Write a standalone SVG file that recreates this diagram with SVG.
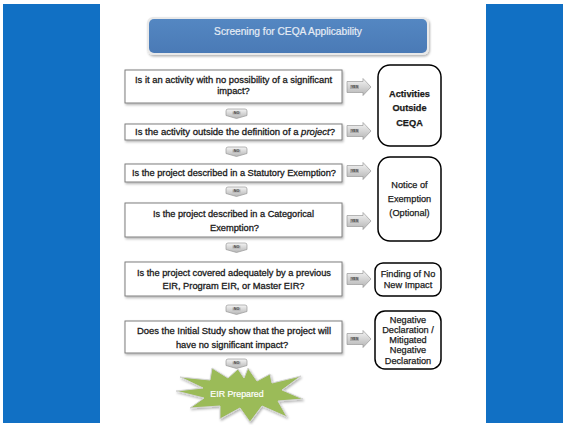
<svg xmlns="http://www.w3.org/2000/svg" width="566" height="425" viewBox="0 0 566 425">
<defs>
<linearGradient id="grayV" x1="0" y1="0" x2="0" y2="1">
<stop offset="0" stop-color="#f4f4f4"/>
<stop offset="1" stop-color="#b5b5b5"/>
</linearGradient>
<linearGradient id="titleG" x1="0" y1="0" x2="0" y2="1">
<stop offset="0" stop-color="#5487c2"/>
<stop offset="1" stop-color="#4a7ab6"/>
</linearGradient>
<filter id="sh" x="-10%" y="-10%" width="130%" height="140%">
<feDropShadow dx="1" dy="1.5" stdDeviation="1" flood-color="#000" flood-opacity="0.3"/>
</filter>
</defs>
<style>
.q{fill:#fff;stroke:#7f7f7f;stroke-width:1;filter:url(#sh)}
.qt{font-family:"Liberation Sans",Arial,sans-serif;font-size:9.3px;fill:#1a1a1a;stroke:#1a1a1a;stroke-width:0.3px;text-anchor:middle}
.rb{fill:#fff;stroke:#000;stroke-width:1.5}
.rt{font-family:"Liberation Sans",Arial,sans-serif;font-size:9.2px;fill:#1a1a1a;stroke:#1a1a1a;stroke-width:0.25px;text-anchor:middle}
.yes{fill:url(#grayV);stroke:#9a9a9a;stroke-width:0.7}
.lbl{font-family:"Liberation Sans",Arial,sans-serif;font-size:3.6px;font-weight:bold;fill:#444;text-anchor:middle}
</style>
<rect x="0" y="0" width="566" height="425" fill="#fff"/>
<rect x="3" y="4" width="97" height="419" fill="#1170c4"/>
<rect x="486" y="4" width="77" height="419" fill="#1170c4"/>

<g id="title">
<rect x="147" y="17" width="282" height="38" rx="6" fill="#e9e9e9" filter="url(#sh)"/>
<rect x="149" y="19" width="278" height="34" rx="5" fill="url(#titleG)"/>
<text x="288" y="35" font-family="'Liberation Sans',Arial,sans-serif" font-size="10.2" fill="#e6ecf5" stroke="#e6ecf5" stroke-width="0.2" text-anchor="middle">Screening for CEQA Applicability</text>
</g>

<g id="q1">
<rect class="q" x="125" y="70" width="217" height="33"/>
<text class="qt" x="233.5" y="82.5" textLength="197" lengthAdjust="spacingAndGlyphs">Is it an activity with no possibility of a significant</text>
<text class="qt" x="233.5" y="93.5">impact?</text>
</g>
<g id="q2">
<rect class="q" x="125" y="124" width="217" height="16"/>
<text class="qt" x="235" y="135.3" textLength="200" lengthAdjust="spacingAndGlyphs">Is the activity outside the definition of a <tspan font-style="italic">project</tspan>?</text>
</g>
<g id="q3">
<rect class="q" x="125" y="164" width="217" height="18"/>
<text class="qt" x="234" y="176" textLength="204" lengthAdjust="spacingAndGlyphs">Is the project described in a Statutory Exemption?</text>
</g>
<g id="q4">
<rect class="q" x="125" y="203" width="217" height="34"/>
<text class="qt" x="233.5" y="216.5" textLength="161" lengthAdjust="spacingAndGlyphs">Is the project described in a Categorical</text>
<text class="qt" x="234.5" y="230.5">Exemption?</text>
</g>
<g id="q5">
<rect class="q" x="125" y="262" width="217" height="34"/>
<text class="qt" x="234" y="276" textLength="194" lengthAdjust="spacingAndGlyphs">Is the project covered adequately by a previous</text>
<text class="qt" x="233.5" y="288.5">EIR, Program EIR, or Master EIR?</text>
</g>
<g id="q6">
<rect class="q" x="125" y="321" width="217" height="32"/>
<text class="qt" x="234" y="333.5" textLength="194" lengthAdjust="spacingAndGlyphs">Does the Initial Study show that the project will</text>
<text class="qt" x="232" y="347.5">have no significant impact?</text>
</g>

<g id="r1">
<rect class="rb" x="378" y="65" width="63" height="81" rx="12"/>
<text class="rt" x="409.5" y="96.5" font-weight="bold" font-size="8.3" stroke-width="0">Activities</text>
<text class="rt" x="409.5" y="110.5" font-weight="bold" font-size="8.3" stroke-width="0">Outside</text>
<text class="rt" x="409.5" y="125.5" font-weight="bold" font-size="8.3" stroke-width="0">CEQA</text>
</g>
<g id="r2">
<rect class="rb" x="378" y="157" width="63" height="84" rx="12"/>
<text class="rt" x="409.5" y="187.5">Notice of</text>
<text class="rt" x="409.5" y="201.5">Exemption</text>
<text class="rt" x="409.5" y="216">(Optional)</text>
</g>
<g id="r3">
<rect class="rb" x="375" y="263" width="66" height="33" rx="8"/>
<text class="rt" x="408" y="276.5" font-size="8.1">Finding of No</text>
<text class="rt" x="408" y="287.5" font-size="8.1">New Impact</text>
</g>
<g id="r4">
<rect class="rb" x="375" y="311" width="66" height="58" rx="10"/>
<text class="rt" x="408" y="322.5" font-size="7.3">Negative</text>
<text class="rt" x="408" y="332.8" font-size="7.3">Declaration /</text>
<text class="rt" x="408" y="343" font-size="7.3">Mitigated</text>
<text class="rt" x="408" y="353.3" font-size="7.3">Negative</text>
<text class="rt" x="408" y="363.6" font-size="7.3">Declaration</text>
</g>

<g id="eir">
<path d="M248,368 L257,381 L270,374 L272,383 L301,376 L282,390 L303,399 L278,401 L287,417 L262,406 L250,422 L240,408 L220,419 L220,406 L190,408 L204,398 L176,391 L203,388 L180,377 L210,380 L212,368 L228,378 L238,369 L244,378 Z" fill="#9bbb59" stroke="#d4d4d4" stroke-width="1" filter="url(#sh)"/>
<text x="237" y="396.5" font-family="'Liberation Sans',Arial,sans-serif" font-size="8.8" fill="#fff" stroke="#fff" stroke-width="0.2" text-anchor="middle">EIR Prepared</text>
</g>

<g id="connectors">
<g transform="translate(347,87)">
<path class="yes" d="M0,-5.5 H16 V-8.5 L24,0 L16,8.5 V5.5 H0 Z"/>
<rect x="3" y="-2" width="9" height="4" fill="#8a8a8a" opacity="0.5"/>
<text class="lbl" x="7.5" y="1.3">YES</text>
</g>
<g transform="translate(347,131)">
<path class="yes" d="M0,-5.5 H16 V-8.5 L24,0 L16,8.5 V5.5 H0 Z"/>
<rect x="3" y="-2" width="9" height="4" fill="#8a8a8a" opacity="0.5"/>
<text class="lbl" x="7.5" y="1.3">YES</text>
</g>
<g transform="translate(347,171)">
<path class="yes" d="M0,-5.5 H16 V-8.5 L24,0 L16,8.5 V5.5 H0 Z"/>
<rect x="3" y="-2" width="9" height="4" fill="#8a8a8a" opacity="0.5"/>
<text class="lbl" x="7.5" y="1.3">YES</text>
</g>
<g transform="translate(347,221)">
<path class="yes" d="M0,-5.5 H16 V-8.5 L24,0 L16,8.5 V5.5 H0 Z"/>
<rect x="3" y="-2" width="9" height="4" fill="#8a8a8a" opacity="0.5"/>
<text class="lbl" x="7.5" y="1.3">YES</text>
</g>
<g transform="translate(347,279)">
<path class="yes" d="M0,-5.5 H16 V-8.5 L24,0 L16,8.5 V5.5 H0 Z"/>
<rect x="3" y="-2" width="9" height="4" fill="#8a8a8a" opacity="0.5"/>
<text class="lbl" x="7.5" y="1.3">YES</text>
</g>
<g transform="translate(347,339)">
<path class="yes" d="M0,-5.5 H16 V-8.5 L24,0 L16,8.5 V5.5 H0 Z"/>
<rect x="3" y="-2" width="9" height="4" fill="#8a8a8a" opacity="0.5"/>
<text class="lbl" x="7.5" y="1.3">YES</text>
</g>
<g transform="translate(226,109)">
<path class="yes" d="M0,2 Q0,0 2,0 H19 Q21,0 21,2 V6.5 L10.5,9.5 L0,6.5 Z"/>
<rect x="6.5" y="2.5" width="8" height="3" fill="#8a8a8a" opacity="0.5"/>
<text class="lbl" x="10.5" y="5.3">NO</text>
</g>
<g transform="translate(226,147)">
<path class="yes" d="M0,2 Q0,0 2,0 H19 Q21,0 21,2 V6.5 L10.5,9.5 L0,6.5 Z"/>
<rect x="6.5" y="2.5" width="8" height="3" fill="#8a8a8a" opacity="0.5"/>
<text class="lbl" x="10.5" y="5.3">NO</text>
</g>
<g transform="translate(226,187)">
<path class="yes" d="M0,2 Q0,0 2,0 H19 Q21,0 21,2 V6.5 L10.5,9.5 L0,6.5 Z"/>
<rect x="6.5" y="2.5" width="8" height="3" fill="#8a8a8a" opacity="0.5"/>
<text class="lbl" x="10.5" y="5.3">NO</text>
</g>
<g transform="translate(226,243)">
<path class="yes" d="M0,2 Q0,0 2,0 H19 Q21,0 21,2 V6.5 L10.5,9.5 L0,6.5 Z"/>
<rect x="6.5" y="2.5" width="8" height="3" fill="#8a8a8a" opacity="0.5"/>
<text class="lbl" x="10.5" y="5.3">NO</text>
</g>
<g transform="translate(226,305)">
<path class="yes" d="M0,2 Q0,0 2,0 H19 Q21,0 21,2 V6.5 L10.5,9.5 L0,6.5 Z"/>
<rect x="6.5" y="2.5" width="8" height="3" fill="#8a8a8a" opacity="0.5"/>
<text class="lbl" x="10.5" y="5.3">NO</text>
</g>
<g transform="translate(226,359)">
<path class="yes" d="M0,2 Q0,0 2,0 H19 Q21,0 21,2 V6.5 L10.5,9.5 L0,6.5 Z"/>
<rect x="6.5" y="2.5" width="8" height="3" fill="#8a8a8a" opacity="0.5"/>
<text class="lbl" x="10.5" y="5.3">NO</text>
</g>
</g>
</svg>
